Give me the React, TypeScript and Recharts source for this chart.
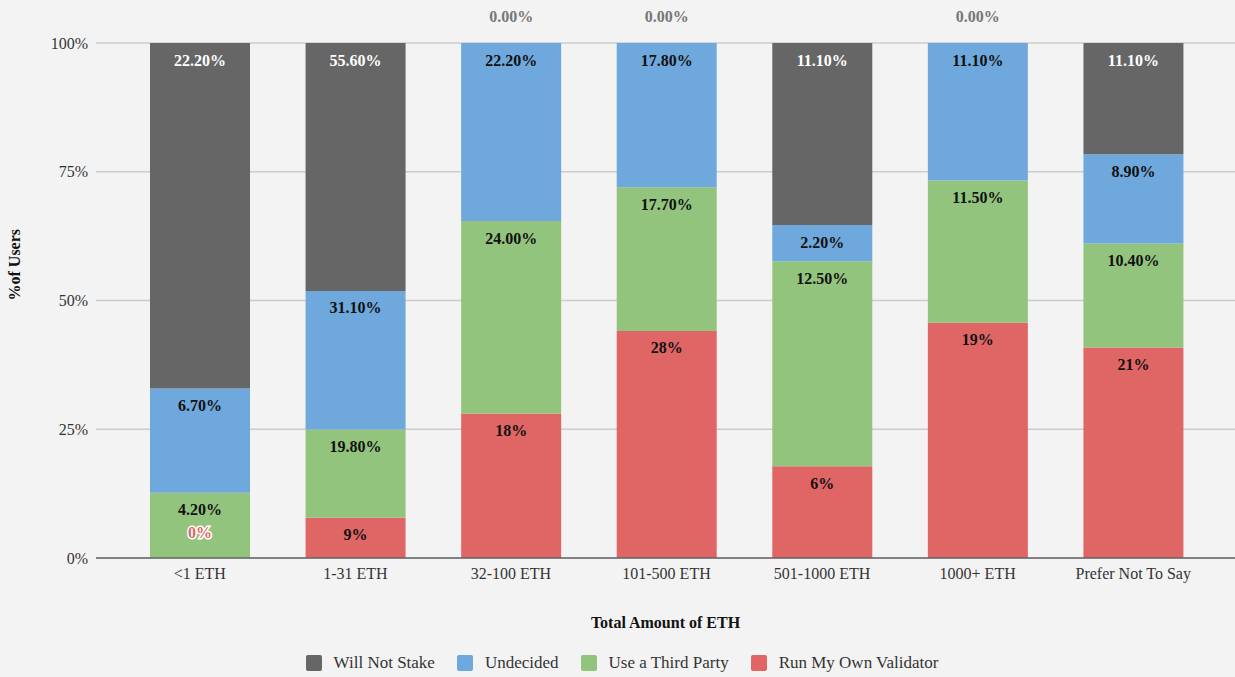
import { BarChart, Bar, XAxis, YAxis, CartesianGrid, Legend, LabelList } from "recharts"

const categories = ["<1 ETH", "1-31 ETH", "32-100 ETH", "101-500 ETH", "501-1000 ETH", "1000+ ETH", "Prefer Not To Say"]
const runOwn = [0, 9, 18, 28, 5.6, 19, 21]
const thirdParty = [4.2, 19.8, 24.0, 17.7, 12.5, 11.5, 10.4]
const undecided = [6.7, 31.1, 22.2, 17.8, 2.2, 11.1, 8.9]
const willNotStake = [22.2, 55.6, 0, 0, 11.1, 0, 11.1]
const yTicks = [0, 0.25, 0.5, 0.75, 1]

const data = categories.map((name, i) => ({
  name,
  run: runOwn[i],
  third: thirdParty[i],
  undecided: undecided[i],
  wont: willNotStake[i],
}))

const FONT = "'Liberation Serif', 'Times New Roman', serif"

const series = [
  { key: "run", name: "Run My Own Validator", color: "#e06666", text: "#111", round: true },
  { key: "third", name: "Use a Third Party", color: "#93c47d", text: "#111", round: false },
  { key: "undecided", name: "Undecided", color: "#6fa8dc", text: "#111", round: false },
  { key: "wont", name: "Will Not Stake", color: "#666666", text: "#ffffff", round: false },
]

// legend goes top series first
const legendOrder = [...series].reverse()

function makeLabel(s: (typeof series)[number]) {
  return (props: any) => {
    const { x, y, width, height, value } = props
    const v = Number(value)
    const txt = s.round ? `${Math.round(v)}%` : `${v.toFixed(2)}%`
    const cx = Number(x) + Number(width) / 2
    const top = Math.min(Number(y), Number(y) + Number(height))
    if (v === 0) {
      if (s.key === "run") {
        // zero-height red segment: label with white halo above it
        return (
          <text x={cx} y={top - 25} textAnchor="middle" dominantBaseline="central"
            fontFamily={FONT} fontSize={16} fontWeight="bold" fill={s.color}
            stroke="#fff" strokeWidth={3} paintOrder="stroke">
            {txt}
          </text>
        )
      }
      return (
        <text x={cx} y={top - 26} textAnchor="middle" dominantBaseline="central"
          fontFamily={FONT} fontSize={16} fontWeight="bold" fill="#777">
          {txt}
        </text>
      )
    }
    return (
      <text x={cx} y={top + 17} textAnchor="middle" dominantBaseline="central"
        fontFamily={FONT} fontSize={16} fontWeight="bold" fill={s.text}>
        {txt}
      </text>
    )
  }
}

const renderLegend = () => (
  <div style={{ display: "flex", justifyContent: "center", alignItems: "center", fontFamily: FONT, fontSize: 17, color: "#333", paddingLeft: 31 }}>
    {legendOrder.map((s) => (
      <div key={s.key} style={{ display: "flex", alignItems: "center", marginRight: 22 }}>
        <span style={{ width: 16, height: 16, background: s.color, borderRadius: 2, marginRight: 12, display: "inline-block" }} />
        <span>{s.name}</span>
      </div>
    ))}
  </div>
)

export default function App() {
  return (
    <div style={{ position: "absolute", left: 0, top: 0, width: 1235, height: 677, background: "#f3f3f3" }}>
      <BarChart
        width={1235}
        height={677}
        data={data}
        stackOffset="expand"
        barCategoryGap="18%"
        margin={{ top: 43, right: 0, left: 0, bottom: 0 }}
      >
        <CartesianGrid vertical={false} stroke="#cccccc" strokeWidth={1.5} />
        <XAxis
          dataKey="name"
          height={95}
          padding={{ left: 26, right: 24 }}
          tickLine={false}
          axisLine={{ stroke: "#666", strokeWidth: 1.5 }}
          tickMargin={4}
          tick={{ fill: "#333", fontSize: 16, fontFamily: FONT }}
          label={{ value: "Total Amount of ETH", position: "insideBottom", offset: 25, fill: "#111", fontSize: 16, fontWeight: "bold", fontFamily: FONT }}
        />
        <YAxis
          width={96}
          domain={[0, 1]}
          ticks={yTicks}
          tickFormatter={(v) => `${Math.round(v * 100)}%`}
          tickLine={false}
          axisLine={false}
          tick={{ fill: "#333", fontSize: 16, fontFamily: FONT }}
          label={{ value: "%of Users", angle: -90, position: "insideLeft", offset: 14, fill: "#111", fontSize: 16, fontWeight: "bold", fontFamily: FONT }}
        />
        <Legend verticalAlign="bottom" height={24} content={renderLegend} />
        {series.map((s) => (
          <Bar key={s.key} dataKey={s.key} name={s.name} stackId="a" fill={s.color}
            minPointSize={0.01} isAnimationActive={false}>
            <LabelList dataKey={s.key} content={makeLabel(s)} />
          </Bar>
        ))}
      </BarChart>
    </div>
  )
}
